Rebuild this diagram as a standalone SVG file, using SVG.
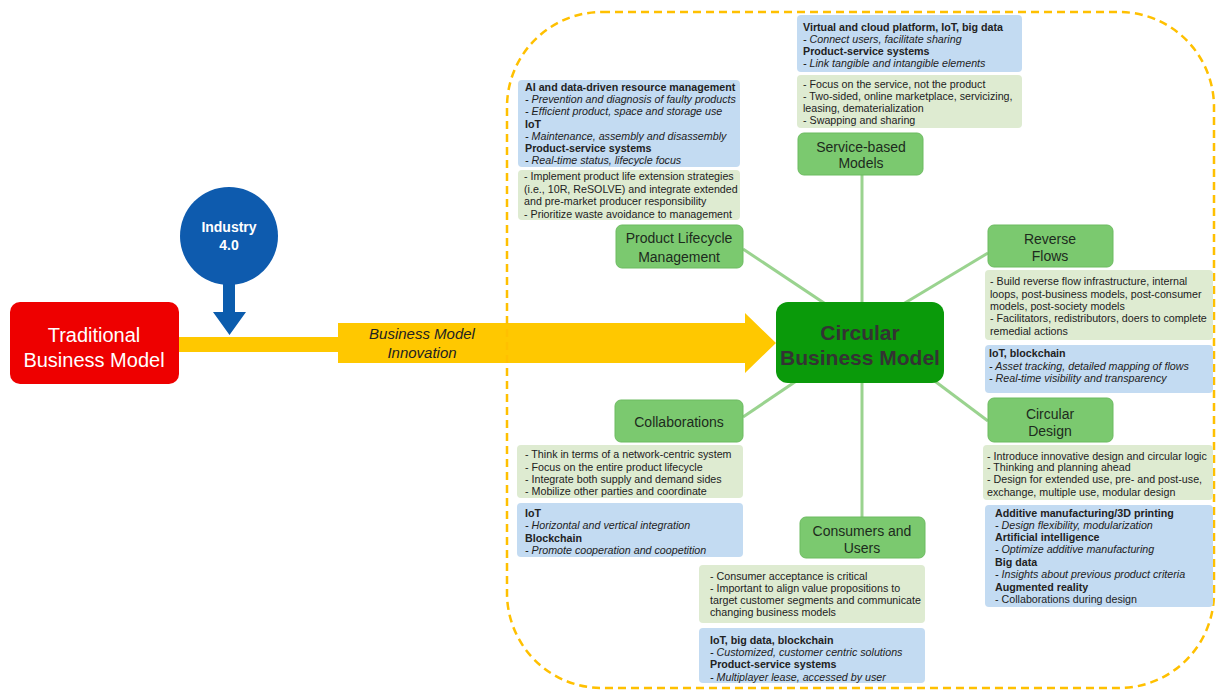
<svg xmlns="http://www.w3.org/2000/svg" width="1216" height="690" viewBox="0 0 1216 690">
<style>
.nb{fill:#7BC96F;stroke:#6DBB61;stroke-width:1}
.tb{fill:#C3DBF2}
.tg{fill:#DEEBD1}
.t{font-family:"Liberation Sans",Arial,sans-serif;font-size:10.7px;fill:#222}
.b{font-weight:bold}
.i{font-style:italic}
.lbl{font-family:"Liberation Sans",Arial,sans-serif;font-size:14px;fill:#1d2b1d;text-anchor:middle}
.conn{stroke:#9AD38F;stroke-width:3;fill:none}
</style>
<rect width="1216" height="690" fill="#ffffff"/>

<g id="connectors">
<line class="conn" x1="743" y1="249" x2="860" y2="327"/>
<line class="conn" x1="988" y1="253" x2="860" y2="330"/>
<line class="conn" x1="743" y1="417" x2="860" y2="338"/>
<line class="conn" x1="988" y1="421" x2="880" y2="340"/>
<line class="conn" x1="862" y1="175" x2="862" y2="310"/>
<line class="conn" x1="862" y1="375" x2="862" y2="517"/>
<polygon id="bmi-arrow" fill="#FFC800" points="178,337 338,337 338,323 745,323 745,313 776,343 745,373 745,363 338,363 338,352 178,352"/>
<polygon id="industry-arrow" fill="#0B5CAD" points="223,283 235,283 235,312 246,312 229.5,335 213,312 223,312"/>
</g>

<rect id="boundary" x="507" y="12" width="707" height="676" rx="95" ry="95" fill="none" stroke="#FFC000" stroke-width="2.5" stroke-dasharray="8,5"/>

<g id="bmi-label">
<text class="t i" style="font-size:15px" x="422" y="339" text-anchor="middle">Business Model</text>
<text class="t i" style="font-size:15px" x="422" y="358" text-anchor="middle">Innovation</text>
</g>

<g id="traditional">
<rect x="10" y="302" width="169" height="82" rx="10" fill="#EE0000"/>
<text x="94" y="342" text-anchor="middle" font-family="Liberation Sans, Arial, sans-serif" font-size="20" fill="#ffffff">Traditional</text>
<text x="94" y="367" text-anchor="middle" font-family="Liberation Sans, Arial, sans-serif" font-size="20" fill="#ffffff">Business Model</text>
</g>

<g id="industry40">
<circle cx="229" cy="236" r="49" fill="#0E5BAE"/>
<text x="229" y="232" text-anchor="middle" font-family="Liberation Sans, Arial, sans-serif" font-size="14" font-weight="bold" fill="#ffffff">Industry</text>
<text x="229" y="250" text-anchor="middle" font-family="Liberation Sans, Arial, sans-serif" font-size="14" font-weight="bold" fill="#ffffff">4.0</text>
</g>

<g id="circular-business-model">
<rect x="776" y="302" width="168" height="81" rx="12" fill="#0A9A0A"/>
<text x="860" y="340" text-anchor="middle" font-family="Liberation Sans, Arial, sans-serif" font-size="21" font-weight="bold" fill="#333333">Circular</text>
<text x="860" y="365" text-anchor="middle" font-family="Liberation Sans, Arial, sans-serif" font-size="21" font-weight="bold" fill="#333333">Business Model</text>
</g>

<g id="service-based-models">
<rect class="tb" x="797" y="15" width="225" height="57" rx="4"/>
<text class="t b" x="803" y="30.5">Virtual and cloud platform, IoT, big data</text>
<text class="t i" x="803" y="42.5">- Connect users, facilitate sharing</text>
<text class="t b" x="803" y="55">Product-service systems</text>
<text class="t i" x="803" y="67">- Link tangible and intangible elements</text>
<rect class="tg" x="797" y="75" width="225" height="53" rx="4"/>
<text class="t" x="803" y="87.5">- Focus on the service, not the product</text>
<text class="t" x="803" y="99.5">- Two-sided, online marketplace, servicizing,</text>
<text class="t" x="803" y="112">leasing, dematerialization</text>
<text class="t" x="803" y="124">- Swapping and sharing</text>
<rect class="nb" x="798" y="133" width="125" height="42" rx="6"/>
<text class="lbl" x="861" y="152">Service-based</text>
<text class="lbl" x="861" y="168">Models</text>
</g>

<g id="product-lifecycle-management">
<rect class="tb" x="518" y="80" width="222" height="87" rx="4"/>
<text class="t b" x="525" y="91">AI and data-driven resource management</text>
<text class="t i" x="525" y="102.5">- Prevention and diagnosis of faulty products</text>
<text class="t i" x="525" y="115">- Efficient product, space and storage use</text>
<text class="t b" x="525" y="127.5">IoT</text>
<text class="t i" x="525" y="139.5">- Maintenance, assembly and disassembly</text>
<text class="t b" x="525" y="152">Product-service systems</text>
<text class="t i" x="525" y="164">- Real-time status, lifecycle focus</text>
<rect class="tg" x="518" y="170" width="222" height="50" rx="4"/>
<text class="t" x="524" y="180">- Implement product life extension strategies</text>
<text class="t" x="524" y="192.5">(i.e., 10R, ReSOLVE) and integrate extended</text>
<text class="t" x="524" y="205">and pre-market producer responsibility</text>
<text class="t" x="524" y="217.5">- Prioritize waste avoidance to management</text>
<rect class="nb" x="616" y="225" width="127" height="43" rx="6"/>
<text class="lbl" x="679" y="243">Product Lifecycle</text>
<text class="lbl" x="679" y="262">Management</text>
</g>

<g id="reverse-flows">
<rect class="nb" x="988" y="225" width="125" height="42" rx="6"/>
<text class="lbl" x="1050" y="244">Reverse</text>
<text class="lbl" x="1050" y="261">Flows</text>
<rect class="tg" x="985" y="270" width="228" height="70" rx="4"/>
<text class="t" x="990" y="285">- Build reverse flow infrastructure, internal</text>
<text class="t" x="990" y="297.5">loops, post-business models, post-consumer</text>
<text class="t" x="990" y="309.5">models, post-society models</text>
<text class="t" x="990" y="322">- Facilitators, redistributors, doers to complete</text>
<text class="t" x="990" y="334.5">remedial actions</text>
<rect class="tb" x="985" y="345" width="228" height="48" rx="4"/>
<text class="t b" x="989" y="357">IoT, blockchain</text>
<text class="t i" x="989" y="369.5">- Asset tracking, detailed mapping of flows</text>
<text class="t i" x="989" y="382">- Real-time visibility and transparency</text>
</g>

<g id="circular-design">
<rect class="nb" x="988" y="398" width="125" height="44" rx="6"/>
<text class="lbl" x="1050" y="419">Circular</text>
<text class="lbl" x="1050" y="436">Design</text>
<rect class="tg" x="983" y="445" width="230" height="55" rx="4"/>
<text class="t" x="987" y="459.5">- Introduce innovative design and circular logic</text>
<text class="t" x="987" y="471">- Thinking and planning ahead</text>
<text class="t" x="987" y="483">- Design for extended use, pre- and post-use,</text>
<text class="t" x="987" y="495.5">exchange, multiple use, modular design</text>
<rect class="tb" x="985" y="505" width="228" height="102" rx="4"/>
<text class="t b" x="995" y="516.5">Additive manufacturing/3D printing</text>
<text class="t i" x="995" y="528.5">- Design flexibility, modularization</text>
<text class="t b" x="995" y="541">Artificial intelligence</text>
<text class="t i" x="995" y="553">- Optimize additive manufacturing</text>
<text class="t b" x="995" y="565.5">Big data</text>
<text class="t i" x="995" y="578">- Insights about previous product criteria</text>
<text class="t b" x="995" y="590.5">Augmented reality</text>
<text class="t" x="995" y="603">- Collaborations during design</text>
</g>

<g id="collaborations">
<rect class="nb" x="615" y="400" width="128" height="42" rx="6"/>
<text class="lbl" x="679" y="427">Collaborations</text>
<rect class="tg" x="517" y="445" width="226" height="53" rx="4"/>
<text class="t" x="525" y="458">- Think in terms of a network-centric system</text>
<text class="t" x="525" y="470.5">- Focus on the entire product lifecycle</text>
<text class="t" x="525" y="482.5">- Integrate both supply and demand sides</text>
<text class="t" x="525" y="495">- Mobilize other parties and coordinate</text>
<rect class="tb" x="517" y="503" width="226" height="54" rx="4"/>
<text class="t b" x="525" y="517">IoT</text>
<text class="t i" x="525" y="529">- Horizontal and vertical integration</text>
<text class="t b" x="525" y="541.5">Blockchain</text>
<text class="t i" x="525" y="554">- Promote cooperation and coopetition</text>
</g>

<g id="consumers-and-users">
<rect class="nb" x="800" y="517" width="125" height="41" rx="6"/>
<text class="lbl" x="862" y="536">Consumers and</text>
<text class="lbl" x="862" y="553">Users</text>
<rect class="tg" x="699" y="565" width="226" height="58" rx="4"/>
<text class="t" x="710" y="580">- Consumer acceptance is critical</text>
<text class="t" x="710" y="592">- Important to align value propositions to</text>
<text class="t" x="710" y="604">target customer segments and communicate</text>
<text class="t" x="710" y="616">changing business models</text>
<rect class="tb" x="699" y="628" width="226" height="55" rx="4"/>
<text class="t b" x="710" y="643.5">IoT, big data, blockchain</text>
<text class="t i" x="710" y="656">- Customized, customer centric solutions</text>
<text class="t b" x="710" y="668">Product-service systems</text>
<text class="t i" x="710" y="680.5">- Multiplayer lease, accessed by user</text>
</g>
</svg>
